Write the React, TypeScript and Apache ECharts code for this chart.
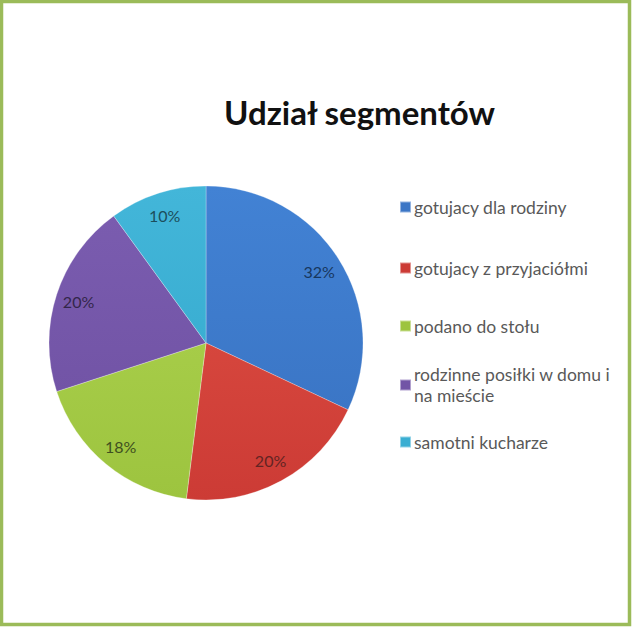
import React, { useEffect, useRef } from "react";
import * as echarts from "echarts";

const categories = [
  "gotujacy dla rodziny",
  "gotujacy z przyjaciółmi",
  "podano do stołu",
  "rodzinne posiłki w domu i\nna mieście",
  "samotni kucharze",
];
const shares = [32, 20, 18, 20, 10];
const sliceColors = ["#3b76c6", "#cc3b35", "#9dc43f", "#7254a6", "#3aaed2"];
const sliceColorsLight = ["#4282d4", "#d6463d", "#a6cc48", "#7a5caf", "#43b6d9"];
const labelColors = ["#17375e", "#632423", "#3f5020", "#33264a", "#1c4e5c"];
const legendCenters = [207, 268, 326, 385, 442];
const titleText = "Udział segmentów";

export default function App() {
  const ref = useRef<HTMLDivElement>(null);
  useEffect(() => {
    if (!ref.current) return;
    const chart = echarts.init(ref.current, null, { renderer: "svg" });
    const font = "Lato, 'Open Sans', sans-serif";
    const legendTop = (i: number) => {
      const multi = categories[i].includes("\n");
      return multi ? legendCenters[i] - 31.5 : legendCenters[i] - 10.5;
    };
    const legends = categories.map((name, i) => ({
      data: [{ name, itemStyle: { color: sliceColors[i] } }],
      orient: "vertical",
      left: 399,
      top: legendTop(i),
      padding: 0,
      itemWidth: 11,
      itemHeight: 11,
      itemGap: 0,
      icon: "rect",
      selectedMode: false,
      textStyle: {
        fontFamily: font,
        fontSize: 17.5,
        color: "#595959",
        lineHeight: 21,
        padding: name.includes("\n") ? [21, 0, 0, -2] : [0, 0, 0, -2],
      },
    }));
    chart.setOption({
      animation: false,
      backgroundColor: "#ffffff",
      title: {
        text: titleText,
        left: 224,
        top: 95,
        padding: 0,
        textStyle: {
          fontFamily: font,
          fontSize: 33,
          fontWeight: "bold",
          color: "#111111",
        },
      },
      legend: legends,
      graphic: [
        {
          type: "rect",
          shape: { x: 1.5, y: 1.5, width: 628, height: 623 },
          style: { fill: "none", stroke: "#9bbb59", lineWidth: 3.5 },
          silent: true,
        },
      ],
      series: [
        {
          type: "pie",
          center: [206, 343],
          radius: [0, 157],
          startAngle: 90,
          clockwise: true,
          silent: true,
          label: { show: false },
          labelLine: { show: false },
          emphasis: { disabled: true },
          itemStyle: { borderColor: "rgba(255,255,255,0.45)", borderWidth: 0.6 },
          data: categories.map((name, i) => ({
            name,
            value: shares[i],
            itemStyle: {
              color: new echarts.graphic.LinearGradient(0, 0, 0, 1, [
                { offset: 0, color: sliceColorsLight[i] },
                { offset: 1, color: sliceColors[i] },
              ]),
            },
          })),
        },
        {
          type: "pie",
          center: [206, 343],
          radius: [105, 157],
          startAngle: 90,
          clockwise: true,
          silent: true,
          labelLine: { show: false },
          emphasis: { disabled: true },
          itemStyle: { color: "rgba(0,0,0,0)" },
          label: {
            show: true,
            position: "inside",
            formatter: "{c}%",
            fontFamily: font,
            fontSize: 16,
          },
          data: categories.map((name, i) => ({
            name,
            value: shares[i],
            label: { color: labelColors[i] },
          })),
        },
      ],
    });
    return () => chart.dispose();
  }, []);
  return (
    <div
      ref={ref}
      style={{ position: "fixed", left: 0, top: 0, width: 634, height: 627 }}
    />
  );
}
